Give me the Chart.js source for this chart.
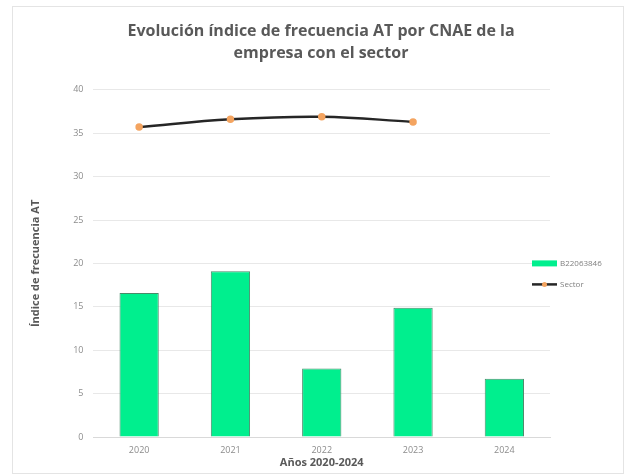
<!DOCTYPE html>
<html>
<head>
<meta charset="utf-8">
<script src="https://cdn.jsdelivr.net/npm/chart.js@4"></script>
<style>
  html, body { margin: 0; padding: 0; background: #fff; }
  #wrap { width: 626px; height: 475px; position: relative; }
  #frame { position: absolute; left: 12px; top: 6px; width: 610px; height: 466px; border: 1px solid #e4e4e4; }
  #chart { position: absolute; left: 0; top: 0; }
</style>
</head>
<body>
<div id="wrap"><div id="frame"></div><canvas id="chart" width="626" height="475"></canvas></div>
<script>
const years = ["2020", "2021", "2022", "2023", "2024"];
const empresaValues = [16.6, 19.1, 7.9, 14.9, 6.7];
const sectorValues = [35.7, 36.6, 36.9, 36.3, null];
const empresaLabel = "B22063846";
const sectorLabel = "Sector";

const font = "'Open Sans', 'Liberation Sans', sans-serif";

// empty box on the right so the plot leaves room for the legend but the title stays centred on the page
const rightGap = {
    id: "rightGap",
    beforeInit(chart) {
        Chart.layouts.addBox(chart, {
            position: "right",
            weight: 100,
            fullSize: false,
            options: {},
            isHorizontal() { return false; },
            update() { this.width = 71; this.height = 0; return this; },
            draw() {}
        });
    }
};

// legend drawn by hand so it can sit where the original one is (just right of the plot)
const sideLegend = {
    id: "sideLegend",
    afterDraw(chart) {
        const ctx = chart.ctx;
        const area = chart.chartArea;
        const x = area.right - 18;
        let y = area.top + (area.bottom - area.top) * 0.5;
        const items = [chart.data.datasets[1], chart.data.datasets[0]];
        ctx.save();
        ctx.font = "8px " + font;
        ctx.textBaseline = "middle";
        items.forEach(ds => {
            if (ds.type === "bar") {
                ctx.fillStyle = ds.backgroundColor;
                ctx.fillRect(x, y - 3, 25, 6);
            } else {
                ctx.strokeStyle = ds.borderColor;
                ctx.lineWidth = 2.5;
                ctx.beginPath();
                ctx.moveTo(x, y);
                ctx.lineTo(x + 25, y);
                ctx.stroke();
                ctx.fillStyle = ds.pointBackgroundColor;
                ctx.beginPath();
                ctx.arc(x + 12.5, y, 2.5, 0, Math.PI * 2);
                ctx.fill();
            }
            ctx.fillStyle = "#7f7f7f";
            ctx.fillText(ds.label, x + 28, y);
            y += 21;
        });
        ctx.restore();
    }
};

new Chart(document.getElementById("chart"), {
    data: {
        labels: years,
        datasets: [
            {
                type: "line",
                label: sectorLabel,
                data: sectorValues,
                borderColor: "#262626",
                backgroundColor: "#262626",
                borderWidth: 2.5,
                tension: 0.4,
                pointRadius: 2.5,
                pointBackgroundColor: "#f4a460",
                pointBorderColor: "#f4a460",
                order: 0
            },
            {
                type: "bar",
                label: empresaLabel,
                data: empresaValues,
                backgroundColor: "#00ef8e",
                borderColor: "#4a8a6a",
                borderWidth: 1,
                categoryPercentage: 1,
                barPercentage: 0.43,
                order: 1
            }
        ]
    },
    plugins: [rightGap, sideLegend],
    options: {
        responsive: false,
        animation: false,
        layout: { padding: { left: 21, right: 5, top: 8, bottom: 6 } },
        plugins: {
            title: {
                display: true,
                text: ["Evolución índice de frecuencia AT por CNAE de la", "empresa con el sector"],
                color: "#595959",
                font: { family: font, size: 16, weight: "bold", lineHeight: 1.4 },
                padding: { top: 12, bottom: 25 }
            },
            legend: { display: false },
            tooltip: { enabled: false }
        },
        scales: {
            x: {
                grid: { display: false },
                border: { color: "#d9d9d9" },
                ticks: { color: "#8c8c8c", font: { family: font, size: 9 }, padding: 0 },
                title: {
                    display: true,
                    text: "Años 2020-2024",
                    color: "#595959",
                    font: { family: font, size: 11, weight: "bold" },
                    padding: { top: 0, bottom: 0 }
                }
            },
            y: {
                min: 0,
                max: 40,
                ticks: { stepSize: 5, color: "#8c8c8c", font: { family: font, size: 9 }, padding: 10 },
                grid: { color: "#e8e8e8", drawTicks: false },
                border: { display: false },
                title: {
                    display: true,
                    text: "Índice de frecuencia AT",
                    color: "#595959",
                    font: { family: font, size: 11, weight: "bold" },
                    padding: { top: 8, bottom: 21 }
                }
            }
        }
    }
});
</script>
</body>
</html>
